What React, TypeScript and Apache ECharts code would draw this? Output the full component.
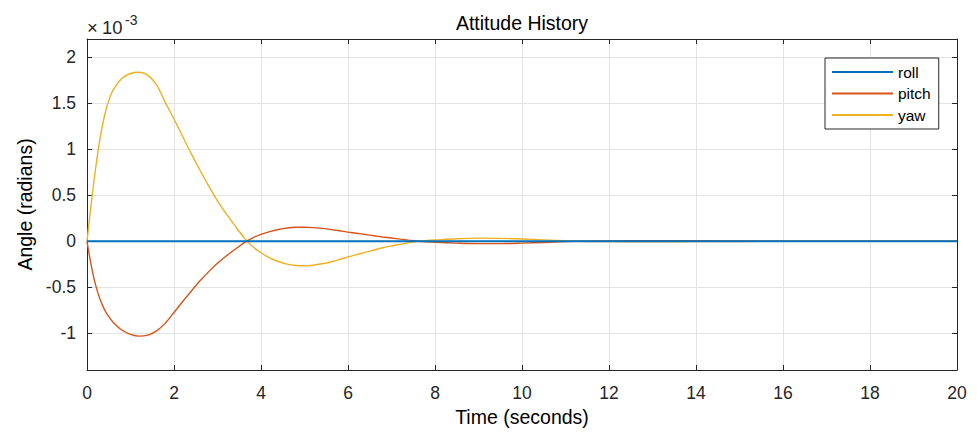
import React, { useEffect, useRef } from "react";
import * as echarts from "echarts";

// time samples (seconds)
const times = [
  0, 0.1, 0.2, 0.3, 0.4, 0.5, 0.6, 0.8, 1.0, 1.2, 1.4, 1.6, 1.8, 2.0, 2.2, 2.4, 2.6, 2.8, 3.0, 3.2, 3.4, 3.6, 3.8,
  4.0, 4.2, 4.4, 4.6, 4.8, 5.0, 5.2, 5.4, 5.6, 5.8, 6.0, 6.2, 6.4, 6.6, 6.8, 7.0, 7.2, 7.4, 7.6, 7.8,
  8.0, 8.5, 9.0, 9.5, 10.0, 10.5, 11.0, 11.5, 12, 13, 14, 15, 16, 17, 18, 19, 20,
];

// angles in units of 1e-3 radians
const roll = [
  0, 0, 0, 0, 0, 0, 0, 0, 0, 0, 0, 0, 0, 0, 0, 0, 0, 0, 0, 0, 0, 0, 0,
  0, 0, 0, 0, 0, 0, 0, 0, 0, 0, 0, 0, 0, 0, 0, 0, 0, 0, 0, 0,
  0, 0, 0, 0, 0, 0, 0, 0, 0, 0, 0, 0, 0, 0, 0, 0, 0,
];
const pitch = [
  0, -0.27, -0.48, -0.63, -0.74, -0.82, -0.88, -0.965, -1.012, -1.032, -1.02, -0.975, -0.89, -0.775, -0.655, -0.54, -0.43, -0.33, -0.24, -0.16, -0.09, -0.02, 0.035,
  0.075, 0.105, 0.128, 0.144, 0.152, 0.153, 0.149, 0.14, 0.128, 0.115, 0.1, 0.087, 0.073, 0.06, 0.047, 0.035, 0.023, 0.012, 0.002, -0.006,
  -0.012, -0.02, -0.025, -0.025, -0.02, -0.013, -0.004, 0.002, 0.004, 0.006, 0.005, 0.003, 0.001, 0, 0, 0, 0,
];
const yaw = [
  0, 0.42, 0.8, 1.12, 1.36, 1.53, 1.645, 1.77, 1.825, 1.838, 1.805, 1.7, 1.51, 1.33, 1.14, 0.95, 0.77, 0.6, 0.44, 0.3, 0.17, 0.045, -0.055,
  -0.125, -0.18, -0.22, -0.248, -0.263, -0.268, -0.26, -0.245, -0.225, -0.2, -0.17, -0.145, -0.12, -0.095, -0.07, -0.05, -0.033, -0.015, 0, 0.008,
  0.014, 0.028, 0.034, 0.032, 0.025, 0.015, 0.005, -0.002, -0.004, -0.005, -0.004, -0.002, -0.001, 0, 0, 0, 0,
];

const seriesNames = ["roll", "pitch", "yaw"];
const seriesColors = ["#0072BD", "#D95319", "#EDB120"];

const xMin = 0;
const xMax = 20;
const xInterval = 2;
const yMin = -1.4;
const yMax = 2.2;

const FONT = "Liberation Sans, Arial, Helvetica, sans-serif";
const AXIS_COLOR = "#262626";

export default function App() {
  const ref = useRef<HTMLDivElement>(null);

  useEffect(() => {
    if (!ref.current) return;
    const chart = echarts.init(ref.current, undefined, { renderer: "svg" });
    const pairs = (vals: number[]) => times.map((t, i) => [t, vals[i]]);
    const allVals = [roll, pitch, yaw];

    const yLabelFmt = (v: number) => {
      const r = Math.round(v * 1000) / 1000;
      if (Math.abs(r * 2 - Math.round(r * 2)) > 1e-6) return "";
      return String(r);
    };

    chart.setOption({
      animation: false,
      backgroundColor: "#ffffff",
      grid: { left: 87, right: 20, top: 39, bottom: 60, containLabel: false },
      graphic: [
        {
          type: "text",
          x: 522,
          y: 23,
          style: {
            text: "Attitude History",
            font: `19.5px ${FONT}`,
            fill: "#000",
            align: "center",
            verticalAlign: "middle",
          },
        },
        {
          type: "text",
          x: 87,
          y: 27,
          style: { text: "×", font: `18.5px ${FONT}`, fill: AXIS_COLOR, align: "left", verticalAlign: "middle" },
        },
        {
          type: "text",
          x: 102,
          y: 27,
          style: { text: "10", font: `18.5px ${FONT}`, fill: AXIS_COLOR, align: "left", verticalAlign: "middle" },
        },
        {
          type: "text",
          x: 125,
          y: 20,
          style: { text: "-3", font: `14px ${FONT}`, fill: AXIS_COLOR, align: "left", verticalAlign: "middle" },
        },
      ],
      legend: {
        orient: "vertical",
        left: 825,
        top: 58,
        data: seriesNames,
        icon: "rect",
        itemWidth: 61,
        itemHeight: 2,
        itemGap: 5.5,
        padding: [6, 8, 6, 7],
        backgroundColor: "#ffffff",
        borderColor: AXIS_COLOR,
        borderWidth: 1,
        borderRadius: 0,
        textStyle: { fontFamily: FONT, fontSize: 15.5, color: "#000" },
      },
      xAxis: [
        {
          type: "value",
          min: xMin,
          max: xMax,
          interval: xInterval,
          name: "Time (seconds)",
          nameLocation: "middle",
          nameGap: 37,
          nameTextStyle: { fontFamily: FONT, fontSize: 19.5, color: "#000", verticalAlign: "top" },
          axisLine: { show: true, onZero: false, lineStyle: { color: AXIS_COLOR, width: 1 } },
          axisTick: { show: true, inside: true, length: 5, lineStyle: { color: AXIS_COLOR } },
          axisLabel: { fontFamily: FONT, fontSize: 17.5, color: AXIS_COLOR, margin: 14 },
          splitLine: { show: true, lineStyle: { color: "#e3e3e3", width: 1 } },
        },
        {
          type: "value",
          position: "top",
          min: xMin,
          max: xMax,
          interval: xInterval,
          axisLine: { show: true, onZero: false, lineStyle: { color: AXIS_COLOR, width: 1 } },
          axisTick: { show: true, inside: true, length: 5, lineStyle: { color: AXIS_COLOR } },
          axisLabel: { show: false },
          splitLine: { show: false },
        },
      ],
      yAxis: [
        {
          type: "value",
          min: yMin,
          max: yMax,
          splitNumber: 7,
          name: "Angle (radians)",
          nameLocation: "middle",
          nameGap: 52,
          nameTextStyle: { fontFamily: FONT, fontSize: 19.5, color: "#000" },
          axisLine: { show: true, onZero: false, lineStyle: { color: AXIS_COLOR, width: 1 } },
          axisTick: { show: true, inside: true, length: 5, lineStyle: { color: AXIS_COLOR } },
          axisLabel: {
            fontFamily: FONT,
            fontSize: 17.5,
            color: AXIS_COLOR,
            margin: 11,
            formatter: yLabelFmt,
            showMinLabel: false,
            showMaxLabel: false,
          },
          splitLine: { show: true, lineStyle: { color: "#e3e3e3", width: 1 } },
        },
        {
          type: "value",
          position: "right",
          min: yMin,
          max: yMax,
          splitNumber: 7,
          axisLine: { show: true, onZero: false, lineStyle: { color: AXIS_COLOR, width: 1 } },
          axisTick: { show: true, inside: true, length: 5, lineStyle: { color: AXIS_COLOR } },
          axisLabel: { show: false },
          splitLine: { show: false },
        },
      ],
      series: seriesNames.map((name, i) => ({
        name,
        type: "line",
        xAxisIndex: 0,
        yAxisIndex: 0,
        data: pairs(allVals[i]),
        showSymbol: false,
        symbol: "none",
        smooth: 0.3,
        color: seriesColors[i],
        lineStyle: { color: seriesColors[i], width: i === 0 ? 2 : 1.4 },
        z: 3 - i,
      })),
    });

    return () => chart.dispose();
  }, []);

  return (
    <div
      ref={ref}
      style={{ position: "fixed", left: 0, top: 0, width: 977, height: 432, background: "#fff" }}
    />
  );
}
